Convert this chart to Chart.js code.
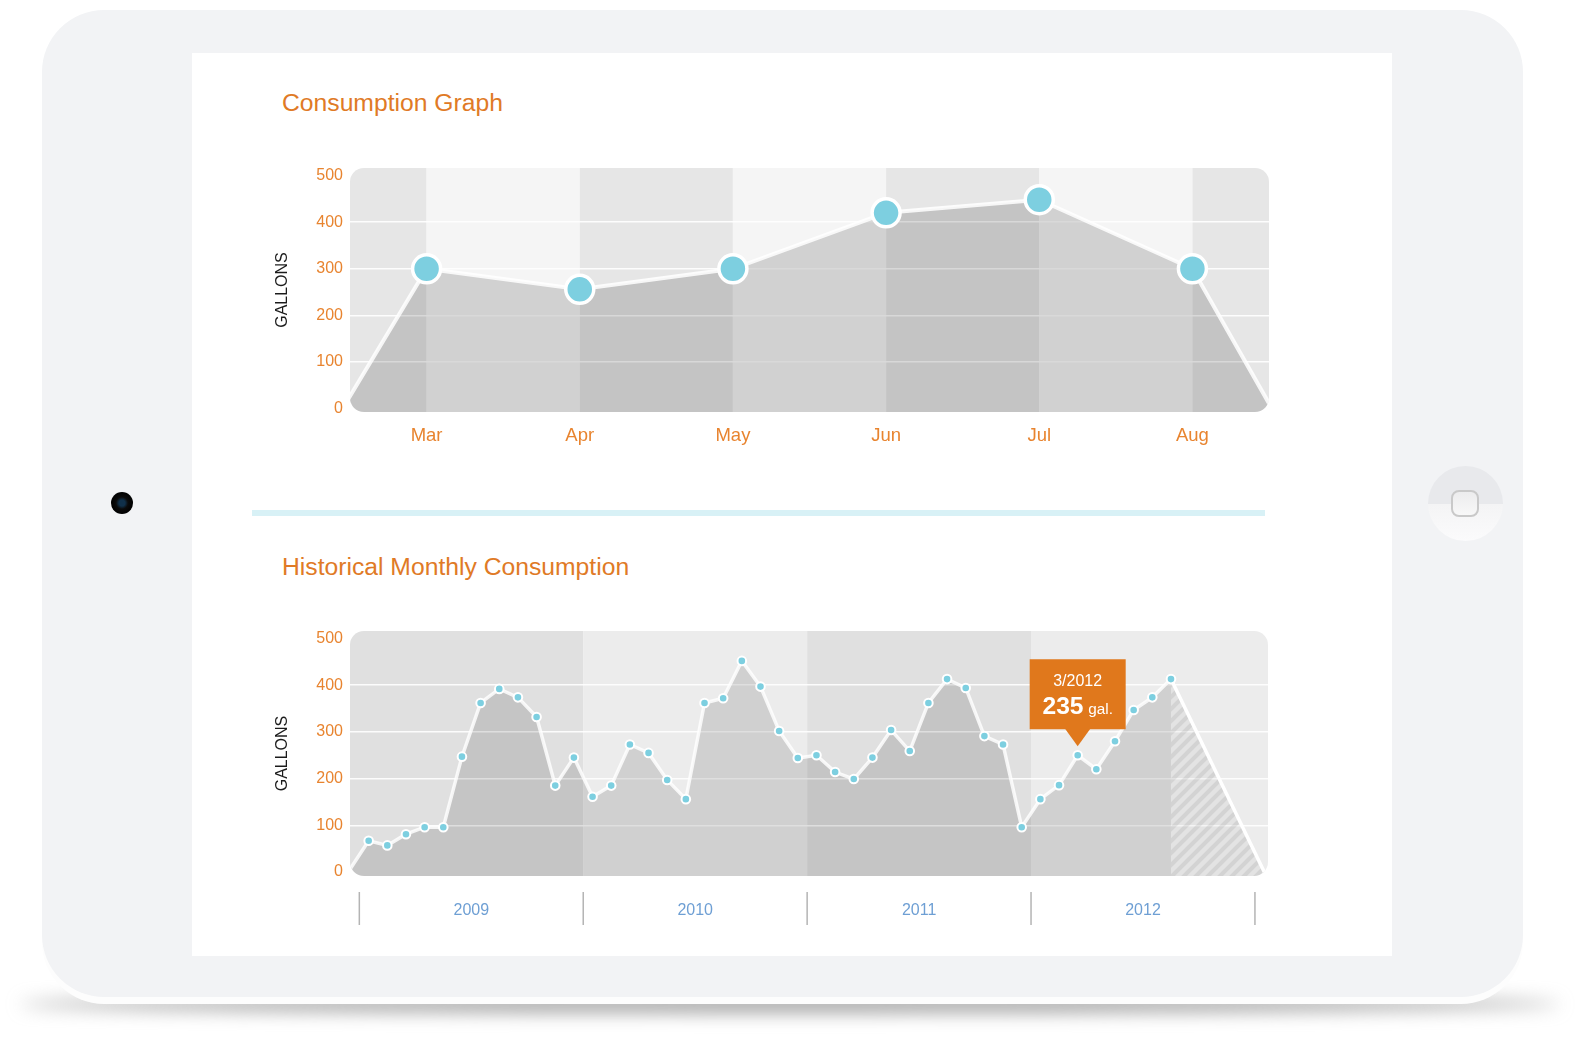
<!DOCTYPE html>
<html>
<head>
<meta charset="utf-8">
<title>Consumption</title>
<script src="https://cdn.jsdelivr.net/npm/chart.js@4.4.1/dist/chart.umd.min.js"></script>
<style>
  html, body { margin: 0; padding: 0; background: #fff; }
  body { width: 1579px; height: 1040px; position: relative; overflow: hidden;
         font-family: "Liberation Sans", Arial, sans-serif; }
  .shadow { position: absolute; left: 20px; top: 996px; width: 1540px; height: 16px;
            background: #9a9a9a; border-radius: 50%; filter: blur(9px); }
  .base { position: absolute; left: 42px; top: 17px; width: 1481px; height: 987px;
          border-radius: 62px; background: #fdfdfd; }
  .device { position: absolute; left: 42px; top: 10px; width: 1481px; height: 987px;
            border-radius: 62px; background: #f2f3f5; }
  .screen { position: absolute; left: 192px; top: 53px; width: 1200px; height: 903px; background: #fff; }
  .camera { position: absolute; left: 111px; top: 492px; width: 22px; height: 22px; border-radius: 50%;
            background: radial-gradient(circle, #10304a 0, #10304a 3px, #0b0b0b 6px, #000 11px); }
  .home { position: absolute; left: 1428px; top: 466px; width: 75px; height: 75px; border-radius: 50%;
          background: linear-gradient(#e8e9ec 0%, #e8e9ec 50%, #f4f4f5 51%, #fbfbfc 100%); }
  .home .key { position: absolute; left: 23px; top: 24px; width: 24px; height: 23px;
               border: 2px solid #c9c9c9; border-radius: 8px;
               background: linear-gradient(#ececed, #f8f8f8); }
  .title { position: absolute; left: 282px; font-size: 24.7px; line-height: 30px; color: #e07a26;
           white-space: nowrap; }
  .rule { position: absolute; left: 252px; top: 510px; width: 1013px; height: 6px; background: #d8f1f6; }
  canvas { position: absolute; }
</style>
</head>
<body>
<div class="shadow"></div>
<div class="base"></div>
<div class="device"></div>
<div class="screen"></div>
<div class="camera"></div>
<div class="home"><div class="key"></div></div>

<div class="title" style="top:88px">Consumption Graph</div>
<div class="rule"></div>
<div class="title" style="top:552px">Historical Monthly Consumption</div>

<canvas id="usage" width="1040" height="320" style="left:250px;top:150px"></canvas>
<canvas id="history" width="1040" height="330" style="left:250px;top:610px"></canvas>

<script>
"use strict";

var FONT = '"Liberation Sans", Arial, sans-serif';
Chart.defaults.font.family = FONT;

var orange = "#e8842f";
var dotBlue = "#7dcfe0";

// consumption graph
var months = ["Mar", "Apr", "May", "Jun", "Jul", "Aug"];
var monthlyGallons = [300, 256, 300, 420, 448, 300];
var monthlyEnds = [-0.55, 5.52];  // line runs down to zero just past the edges

// historical graph (Jan 2009 .. Aug 2012)
var years = ["2009", "2010", "2011", "2012"];
var historyGallons = [
  67, 57, 81, 96, 96, 247, 362, 392, 374, 332, 185, 245,
  161, 185, 273, 255, 197, 156, 362, 372, 452, 397, 302, 244,
  250, 214, 199, 245, 304, 259, 362, 413, 394, 291, 273, 96,
  156, 186, 250, 220, 280, 347, 374, 413
];
var historyStart = -1.1;
var forecastEnd = 48;
var calloutIndex = 38;
var calloutLabel = "3/2012";
var calloutGallons = 235;

var gallonTicks = [0, 100, 200, 300, 400, 500];

function gridColor(c) {
  var v = c.tick && c.tick.value;
  return (v > 0 && v < 500) ? "rgba(255,255,255,0.9)" : "rgba(0,0,0,0)";
}

function roundedPath(ctx, a) {
  ctx.beginPath();
  ctx.roundRect(a.left, a.top, a.right - a.left, a.bottom - a.top, 14);
}

// rounded grey panel with alternating columns, datasets clipped to it
var panelPlugin = {
  id: "panel",
  beforeDraw: function(chart, args, opts) {
    var ctx = chart.ctx, a = chart.chartArea, x = chart.scales.x;
    var edges = [x.min].concat(opts.edges).concat([x.max]);
    ctx.save();
    roundedPath(ctx, a);
    ctx.clip();
    for (var i = 0; i < edges.length - 1; i++) {
      var x0 = x.getPixelForValue(edges[i]);
      var x1 = x.getPixelForValue(edges[i + 1]);
      ctx.fillStyle = opts.colors[i % 2];
      ctx.fillRect(x0, a.top, x1 - x0, a.bottom - a.top);
    }
    ctx.restore();
  },
  beforeDatasetsDraw: function(chart) {
    chart.ctx.save();
    roundedPath(chart.ctx, chart.chartArea);
    chart.ctx.clip();
  },
  afterDatasetsDraw: function(chart) {
    chart.ctx.restore();
  }
};

var yearEdges = years.map(function(y, k) { return 12 * k - 0.5; }).concat([12 * years.length - 0.5]);

var yearDividerPlugin = {
  id: "yearDividers",
  afterDraw: function(chart) {
    var ctx = chart.ctx, x = chart.scales.x, b = chart.chartArea.bottom;
    ctx.save();
    ctx.strokeStyle = "#b4b4b4";
    ctx.lineWidth = 1.5;
    yearEdges.forEach(function(v) {
      var px = x.getPixelForValue(v);
      ctx.beginPath();
      ctx.moveTo(px, b + 16);
      ctx.lineTo(px, b + 49);
      ctx.stroke();
    });
    ctx.restore();
  }
};

var calloutPlugin = {
  id: "callout",
  afterDraw: function(chart) {
    var ctx = chart.ctx;
    var pt = chart.getDatasetMeta(0).data[calloutIndex + 1];
    var w = 96, h = 70;
    var bottom = pt.y - 9 - 17;
    var top = bottom - h;
    ctx.save();
    ctx.fillStyle = "#e0781c";
    ctx.fillRect(pt.x - w / 2, top, w, h);
    ctx.beginPath();
    ctx.moveTo(pt.x - 13, bottom - 1);
    ctx.lineTo(pt.x + 13, bottom - 1);
    ctx.lineTo(pt.x, bottom + 17);
    ctx.closePath();
    ctx.fill();

    ctx.fillStyle = "#fff";
    ctx.textAlign = "center";
    ctx.textBaseline = "middle";
    ctx.font = "16px " + FONT;
    ctx.fillText(calloutLabel, pt.x, top + 22);

    var big = "bold 24.6px " + FONT, small = "15.3px " + FONT;
    ctx.font = big;
    var vw = ctx.measureText(String(calloutGallons)).width;
    ctx.font = small;
    var uw = ctx.measureText("gal.").width;
    var sx = pt.x - (vw + 4.7 + uw) / 2;
    ctx.textAlign = "left";
    ctx.textBaseline = "alphabetic";
    ctx.font = big;
    ctx.fillText(String(calloutGallons), sx, top + 55);
    ctx.font = small;
    ctx.fillText("gal.", sx + vw + 4.7, top + 55);
    ctx.restore();
  }
};

function hatchPattern() {
  var c = document.createElement("canvas");
  c.width = 12; c.height = 12;
  var g = c.getContext("2d");
  g.fillStyle = "rgba(0,0,0,0.035)";
  g.fillRect(0, 0, 12, 12);
  g.strokeStyle = "rgba(0,0,0,0.075)";
  g.lineWidth = 4.2;
  g.beginPath();
  g.moveTo(-3, 15); g.lineTo(15, -3);
  g.moveTo(-9, 9); g.lineTo(9, -9);
  g.moveTo(3, 21); g.lineTo(21, 3);
  g.stroke();
  return g.createPattern(c, "repeat");
}

function yAxis(min) {
  return {
    min: min, max: 516,
    border: { display: false },
    grid: { drawTicks: false, lineWidth: 1.5, color: gridColor },
    afterBuildTicks: function(s) { s.ticks = gallonTicks.map(function(v) { return { value: v }; }); },
    afterFit: function(s) { s.width = 100; },
    ticks: { color: orange, font: { size: 16 }, padding: 7 },
    title: { display: true, text: "GALLONS", color: "#1b1b1b", font: { size: 16 }, padding: { top: 23, bottom: 0 } }
  };
}

function init_usage_chart() {
  var points = [{ x: monthlyEnds[0], y: 0 }]
    .concat(monthlyGallons.map(function(v, i) { return { x: i, y: v }; }))
    .concat([{ x: monthlyEnds[1], y: 0 }]);
  var last = points.length - 1;

  new Chart(document.getElementById("usage"), {
    type: "line",
    data: {
      datasets: [{
        data: points,
        borderColor: "rgba(255,255,255,0.85)",
        borderWidth: 4,
        backgroundColor: "rgba(0,0,0,0.145)",
        fill: "start",
        tension: 0,
        pointRadius: function(c) { return (c.dataIndex === 0 || c.dataIndex === last) ? 0 : 14; },
        pointBackgroundColor: dotBlue,
        pointBorderColor: "#fff",
        pointBorderWidth: 3.5
      }]
    },
    options: {
      responsive: false,
      animation: false,
      events: [],
      layout: { padding: { top: 18, right: 21, left: 0, bottom: 0 } },
      plugins: {
        legend: { display: false },
        tooltip: { enabled: false },
        panel: { edges: months.map(function(m, i) { return i; }), colors: ["#e6e6e6", "#f5f5f5"] }
      },
      scales: {
        x: {
          type: "linear", min: -0.5, max: 5.5,
          border: { display: false },
          grid: { display: false, drawTicks: false },
          afterBuildTicks: function(s) { s.ticks = months.map(function(m, i) { return { value: i }; }); },
          afterFit: function(s) { s.height = 58; },
          ticks: {
            autoSkip: false, maxRotation: 0, color: orange, font: { size: 18.5 }, padding: 13,
            callback: function(v, i) { return months[i]; }
          }
        },
        y: yAxis(-7)
      }
    },
    plugins: [panelPlugin]
  });
}

function init_history_chart() {
  var points = [{ x: historyStart, y: 0 }]
    .concat(historyGallons.map(function(v, i) { return { x: i, y: v }; }));
  var lastIdx = historyGallons.length - 1;
  var forecast = [{ x: lastIdx, y: historyGallons[lastIdx] }, { x: forecastEnd, y: 0 }];

  new Chart(document.getElementById("history"), {
    type: "line",
    data: {
      datasets: [
        {
          data: points,
          borderColor: "rgba(255,255,255,0.82)",
          borderWidth: 3.5,
          backgroundColor: "rgba(0,0,0,0.118)",
          fill: "start",
          tension: 0,
          pointRadius: function(c) { return c.dataIndex === 0 ? 0 : 4.3; },
          pointBackgroundColor: dotBlue,
          pointBorderColor: "#fff",
          pointBorderWidth: 2
        },
        {
          data: forecast,
          borderColor: "#fff",
          borderWidth: 3.5,
          backgroundColor: hatchPattern(),
          fill: "start",
          tension: 0,
          pointRadius: 0
        }
      ]
    },
    options: {
      responsive: false,
      animation: false,
      events: [],
      layout: { padding: { top: 21, right: 22, left: 0, bottom: 0 } },
      plugins: {
        legend: { display: false },
        tooltip: { enabled: false },
        panel: { edges: yearEdges.slice(1, -1), colors: ["#e0e0e0", "#ececec"] }
      },
      scales: {
        x: {
          type: "linear", min: -1, max: 48.2,
          border: { display: false },
          grid: { display: false, drawTicks: false },
          afterBuildTicks: function(s) { s.ticks = years.map(function(y, k) { return { value: 12 * k + 5.5 }; }); },
          afterFit: function(s) { s.height = 64; },
          ticks: {
            autoSkip: false, maxRotation: 0, color: "#6e9fd4", font: { size: 16 }, padding: 25,
            callback: function(v, i) { return years[i]; }
          }
        },
        y: yAxis(-8.5)
      }
    },
    plugins: [panelPlugin, yearDividerPlugin, calloutPlugin]
  });
}

init_usage_chart();
init_history_chart();
</script>
</body>
</html>
